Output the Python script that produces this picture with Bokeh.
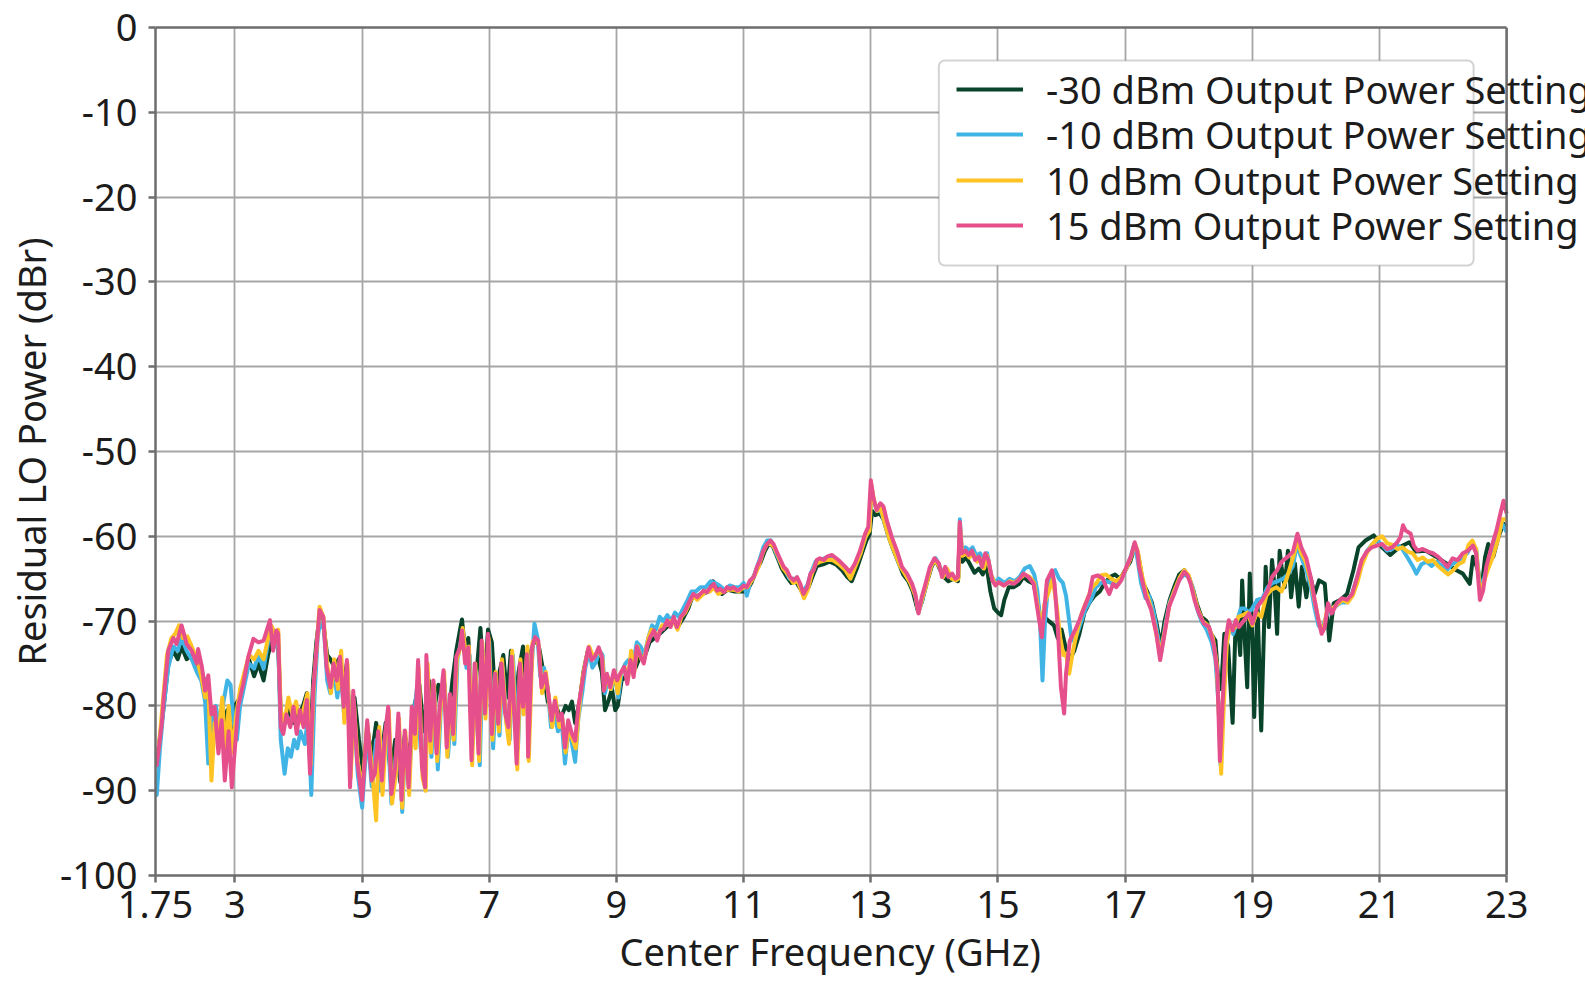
from bokeh.plotting import figure
from bokeh.models import (ColumnDataSource, FixedTicker, Legend, LegendItem,
                          BoxAnnotation, Range1d, LinearAxis, Span, Title)
from bokeh.embed import file_html
from bokeh.resources import INLINE

# ---------------- data ----------------
x_ticks = [1.75, 3, 5, 7, 9, 11, 13, 15, 17, 19, 21, 23]
x_tick_labels = ["1.75", "3", "5", "7", "9", "11", "13", "15", "17", "19", "21", "23"]
y_ticks = [0, -10, -20, -30, -40, -50, -60, -70, -80, -90, -100]
y_tick_labels = ["0", "-10", "-20", "-30", "-40", "-50", "-60", "-70", "-80", "-90", "-100"]

series_names = ["-30 dBm Output Power Setting", "-10 dBm Output Power Setting",
                "10 dBm Output Power Setting", "15 dBm Output Power Setting"]

freq_m30 = [1.75, 1.80, 1.88, 1.95, 2.03, 2.10, 2.16, 2.24, 2.32, 2.40, 2.48, 2.55, 2.63, 2.70, 2.76, 2.82, 2.88, 2.95, 3.00, 3.08,
            3.15, 3.22, 3.30, 3.37, 3.45, 3.52, 3.57, 3.62, 3.68, 3.72, 3.78, 3.85, 3.92, 4.00, 4.07, 4.13, 4.18, 4.23, 4.28, 4.33,
            4.39, 4.45, 4.50, 4.57, 4.63, 4.70, 4.76, 4.82, 4.88, 4.95, 5.02, 5.08, 5.15, 5.22, 5.30, 5.37, 5.45, 5.52, 5.60, 5.67,
            5.75, 5.82, 5.90, 5.97, 6.05, 6.12, 6.20, 6.28, 6.35, 6.42, 6.48, 6.54, 6.57, 6.62, 6.67, 6.73, 6.80, 6.86, 6.92, 6.98,
            7.04, 7.10, 7.16, 7.22, 7.28, 7.34, 7.40, 7.46, 7.53, 7.60, 7.66, 7.72, 7.78, 7.85, 7.92, 7.98, 8.05, 8.12, 8.20, 8.25,
            8.30, 8.35, 8.42, 8.48, 8.55, 8.62, 8.70, 8.77, 8.82, 8.87, 8.93, 8.98, 9.02, 9.08, 9.15, 9.22, 9.30, 9.38, 9.45, 9.52,
            9.60, 9.68, 9.75, 9.82, 9.90, 9.98, 10.06, 10.13, 10.20, 10.28, 10.35, 10.45, 10.52, 10.58, 10.66, 10.75, 10.85, 10.95, 11.05, 11.12,
            11.20, 11.27, 11.33, 11.40, 11.46, 11.52, 11.60, 11.68, 11.75, 11.82, 11.90, 11.95, 12.02, 12.08, 12.15, 12.25, 12.35, 12.45, 12.55, 12.63,
            12.70, 12.78, 12.86, 12.93, 12.98, 13.02, 13.07, 13.14, 13.20, 13.27, 13.35, 13.43, 13.51, 13.59, 13.66, 13.74, 13.80, 13.88, 13.96, 14.02,
            14.08, 14.15, 14.22, 14.30, 14.37, 14.40, 14.44, 14.50, 14.56, 14.63, 14.70, 14.76, 14.82, 14.88, 14.94, 15.00, 15.05, 15.10, 15.17, 15.25,
            15.33, 15.40, 15.48, 15.56, 15.63, 15.68, 15.73, 15.80, 15.88, 15.94, 16.00, 16.06, 16.13, 16.20, 16.28, 16.36, 16.44, 16.52, 16.60, 16.68,
            16.76, 16.84, 16.92, 17.00, 17.08, 17.15, 17.20, 17.28, 17.34, 17.42, 17.50, 17.56, 17.62, 17.70, 17.78, 17.85, 17.93, 18.00, 18.07, 18.13,
            18.20, 18.28, 18.35, 18.42, 18.46, 18.51, 18.56, 18.62, 18.69, 18.73, 18.77, 18.81, 18.84, 18.88, 18.92, 18.96, 19.00, 19.03, 19.08, 19.14,
            19.21, 19.26, 19.31, 19.35, 19.39, 19.43, 19.46, 19.51, 19.56, 19.61, 19.67, 19.73, 19.78, 19.85, 19.90, 19.98, 20.05, 20.14, 20.21, 20.28,
            20.38, 20.49, 20.59, 20.67, 20.78, 20.91, 21.04, 21.17, 21.31, 21.47, 21.57, 21.73, 21.89, 22.05, 22.21, 22.31, 22.42, 22.47, 22.55, 22.60,
            22.66, 22.71, 22.79, 22.87, 22.95, 23.00]
lo_m30 = [-87.0, -85.0, -80.0, -75.0, -73.5, -74.5, -73.0, -74.5, -74.0, -75.5, -76.0, -78.0, -83.0, -81.0, -84.0, -82.0, -80.5, -83.5, -80.0, -79.0,
          -76.5, -74.5, -76.5, -75.0, -77.0, -74.0, -72.5, -72.5, -73.0, -81.0, -82.0, -80.5, -82.0, -81.0, -80.0, -78.5, -86.0, -77.0, -72.5, -69.5,
          -70.5, -74.0, -74.5, -75.5, -74.5, -78.0, -75.0, -85.0, -79.0, -84.0, -88.0, -82.5, -86.0, -82.0, -86.0, -82.0, -88.0, -84.0, -89.0, -83.5,
          -86.0, -80.0, -77.5, -83.0, -77.0, -81.0, -77.5, -79.0, -82.0, -77.0, -73.5, -71.0, -69.8, -73.5, -72.0, -82.0, -76.0, -70.8, -78.0, -71.0,
          -72.5, -80.0, -76.0, -74.0, -79.0, -73.5, -81.0, -76.0, -73.0, -80.0, -73.5, -72.0, -73.0, -76.0, -79.5, -80.5, -80.0, -81.5, -80.0, -80.5,
          -79.5, -82.0, -79.5, -76.0, -73.5, -74.5, -74.0, -76.0, -80.5, -79.5, -78.0, -80.5, -80.0, -77.0, -76.5, -75.5, -75.5, -74.0, -74.0, -72.5,
          -72.0, -71.5, -71.0, -70.5, -70.0, -70.5, -69.5, -68.5, -67.0, -67.0, -66.8, -66.5, -65.3, -66.0, -66.8, -66.3, -66.5, -66.5, -66.5, -65.5,
          -64.0, -63.0, -61.8, -60.8, -61.2, -62.3, -63.8, -64.8, -65.5, -65.3, -66.3, -67.0, -66.0, -64.8, -63.5, -63.3, -63.0, -63.3, -64.0, -64.8,
          -65.3, -63.8, -62.0, -60.5, -59.8, -57.0, -57.5, -57.3, -58.0, -59.8, -61.5, -63.0, -64.5, -65.3, -66.5, -68.8, -67.8, -65.5, -63.5, -62.8,
          -63.8, -64.8, -65.3, -65.0, -65.3, -59.5, -63.0, -62.5, -63.3, -64.3, -63.8, -64.5, -63.5, -66.5, -68.5, -69.0, -69.3, -67.5, -66.0, -66.0,
          -65.6, -64.8, -65.3, -65.6, -68.0, -70.5, -69.5, -70.0, -70.5, -72.0, -71.0, -73.0, -74.5, -73.5, -71.5, -69.0, -67.8, -67.0, -66.5, -65.5,
          -64.8, -64.5, -65.0, -64.0, -63.0, -61.2, -62.0, -65.5, -66.4, -67.8, -70.5, -73.0, -70.0, -67.5, -65.8, -64.5, -64.0, -64.8, -66.3, -68.0,
          -69.5, -70.0, -71.5, -72.3, -76.5, -78.0, -71.5, -73.0, -82.0, -72.0, -70.0, -74.0, -65.2, -72.0, -77.8, -64.4, -72.0, -81.3, -67.5, -82.9,
          -63.6, -70.7, -62.8, -66.0, -71.5, -61.7, -63.6, -66.0, -61.7, -67.2, -63.2, -68.3, -63.6, -67.2, -64.4, -66.8, -65.2, -65.6, -72.3, -67.9,
          -67.5, -66.8, -64.0, -61.3, -60.5, -59.9, -61.3, -62.2, -61.3, -60.7, -61.8, -61.7, -62.4, -63.2, -64.0, -64.4, -65.6, -62.4, -64.0, -66.5,
          -62.5, -60.9, -62.4, -60.1, -58.5, -58.9]

freq_m10 = [1.75, 1.77, 1.82, 1.88, 1.95, 2.03, 2.10, 2.16, 2.24, 2.32, 2.40, 2.47, 2.53, 2.58, 2.63, 2.70, 2.76, 2.82, 2.88, 2.93,
            2.98, 3.03, 3.08, 3.15, 3.22, 3.30, 3.37, 3.45, 3.52, 3.57, 3.63, 3.68, 3.72, 3.78, 3.83, 3.88, 3.93, 3.98, 4.03, 4.10,
            4.15, 4.20, 4.25, 4.30, 4.34, 4.40, 4.45, 4.50, 4.56, 4.61, 4.66, 4.72, 4.77, 4.82, 4.87, 4.93, 5.00, 5.08, 5.15, 5.22,
            5.28, 5.34, 5.40, 5.46, 5.52, 5.58, 5.63, 5.68, 5.74, 5.80, 5.86, 5.92, 5.98, 6.03, 6.09, 6.14, 6.19, 6.24, 6.30, 6.35,
            6.40, 6.45, 6.50, 6.55, 6.60, 6.64, 6.69, 6.74, 6.79, 6.85, 6.90, 6.95, 7.00, 7.06, 7.11, 7.16, 7.21, 7.27, 7.32, 7.37,
            7.45, 7.50, 7.55, 7.62, 7.66, 7.71, 7.76, 7.80, 7.86, 7.92, 7.97, 8.02, 8.08, 8.14, 8.19, 8.24, 8.29, 8.35, 8.40, 8.46,
            8.51, 8.57, 8.62, 8.68, 8.73, 8.78, 8.82, 8.86, 8.92, 8.98, 9.03, 9.08, 9.14, 9.20, 9.25, 9.32, 9.38, 9.44, 9.50, 9.56,
            9.62, 9.68, 9.74, 9.80, 9.86, 9.92, 9.98, 10.05, 10.12, 10.18, 10.25, 10.32, 10.40, 10.48, 10.55, 10.62, 10.70, 10.78, 10.86, 10.94,
            11.00, 11.05, 11.10, 11.17, 11.24, 11.31, 11.37, 11.43, 11.50, 11.57, 11.64, 11.72, 11.80, 11.87, 11.93, 12.00, 12.06, 12.13, 12.20, 12.30,
            12.40, 12.50, 12.60, 12.68, 12.76, 12.84, 12.92, 12.98, 13.01, 13.05, 13.10, 13.16, 13.22, 13.30, 13.38, 13.46, 13.55, 13.63, 13.70, 13.75,
            13.81, 13.88, 13.95, 14.02, 14.08, 14.14, 14.20, 14.27, 14.34, 14.38, 14.40, 14.43, 14.49, 14.55, 14.60, 14.66, 14.72, 14.78, 14.83, 14.89,
            14.95, 15.01, 15.10, 15.18, 15.26, 15.34, 15.42, 15.50, 15.57, 15.62, 15.66, 15.70, 15.74, 15.78, 15.84, 15.90, 15.96, 16.02, 16.07, 16.12,
            16.16, 16.22, 16.30, 16.38, 16.46, 16.54, 16.62, 16.70, 16.78, 16.86, 16.94, 17.02, 17.09, 17.14, 17.19, 17.25, 17.32, 17.38, 17.45, 17.52,
            17.56, 17.63, 17.70, 17.78, 17.86, 17.93, 18.00, 18.06, 18.13, 18.20, 18.28, 18.36, 18.42, 18.47, 18.50, 18.54, 18.59, 18.64, 18.70, 18.76,
            18.82, 18.88, 18.94, 19.00, 19.08, 19.16, 19.24, 19.32, 19.40, 19.48, 19.56, 19.64, 19.70, 19.77, 19.85, 19.92, 19.98, 20.04, 20.10, 20.16,
            20.22, 20.30, 20.40, 20.48, 20.56, 20.64, 20.72, 20.80, 20.88, 20.96, 21.04, 21.12, 21.20, 21.28, 21.36, 21.44, 21.52, 21.58, 21.66, 21.74,
            21.82, 21.90, 21.98, 22.06, 22.14, 22.22, 22.30, 22.38, 22.45, 22.52, 22.58, 22.64, 22.70, 22.78, 22.86, 22.93, 23.00]
lo_m10 = [-88.0, -90.5, -85.0, -80.0, -75.5, -73.0, -73.5, -72.0, -73.5, -74.5, -76.0, -77.0, -79.5, -86.8, -82.0, -80.0, -83.0, -79.5, -77.0, -77.5,
          -82.0, -84.0, -80.0, -77.5, -75.0, -75.6, -74.0, -75.6, -72.5, -71.0, -73.0, -72.5, -84.0, -88.0, -85.0, -86.0, -84.0, -85.0, -83.0, -84.5,
          -81.0, -90.5, -79.0, -72.0, -70.0, -71.0, -77.0, -78.5, -76.0, -79.0, -75.5, -81.5, -76.5, -87.0, -80.0, -88.0, -92.0, -83.0, -89.5, -84.0,
          -90.0, -84.5, -82.0, -91.5, -86.5, -83.0, -92.5, -84.0, -88.0, -82.0, -78.0, -85.0, -87.0, -77.0, -86.0, -78.5, -87.5, -80.0, -77.5, -86.0,
          -80.5, -84.5, -74.5, -72.5, -72.0, -75.5, -74.0, -84.5, -76.0, -87.0, -73.5, -79.0, -72.5, -85.0, -77.5, -83.5, -75.5, -82.0, -84.0, -74.0,
          -85.0, -76.0, -79.0, -74.0, -76.0, -70.3, -72.0, -76.5, -75.5, -78.0, -82.5, -80.5, -83.0, -82.0, -86.8, -83.0, -84.0, -86.6, -81.5, -78.5,
          -75.5, -73.5, -75.5, -74.8, -73.5, -74.0, -78.5, -77.0, -78.0, -76.5, -79.0, -76.0, -75.0, -74.5, -75.5, -72.5, -73.0, -74.0, -72.0, -70.5,
          -71.0, -69.5, -70.0, -69.3, -70.0, -69.0, -69.5, -68.5, -67.5, -66.5, -66.5, -66.0, -66.0, -65.3, -65.5, -65.8, -66.3, -65.8, -66.0, -66.0,
          -65.5, -67.0, -65.5, -64.5, -63.0, -61.3, -60.5, -60.5, -61.8, -63.0, -63.8, -65.0, -65.0, -65.5, -66.5, -65.8, -64.3, -63.0, -62.8, -62.5,
          -62.5, -63.0, -63.8, -64.5, -63.3, -61.8, -60.0, -58.8, -55.0, -56.0, -57.0, -57.0, -58.5, -60.5, -62.0, -63.5, -64.5, -65.5, -67.0, -69.0,
          -67.5, -65.3, -63.5, -62.6, -63.5, -64.5, -64.0, -64.8, -65.0, -64.8, -58.0, -61.5, -61.3, -61.7, -61.3, -62.3, -62.0, -63.3, -62.0, -64.5,
          -65.5, -65.0, -65.5, -65.0, -65.3, -64.8, -63.8, -63.5, -64.5, -66.5, -70.0, -77.0, -70.0, -66.5, -64.3, -64.0, -65.0, -65.5, -67.0, -70.0,
          -72.3, -72.0, -70.3, -68.5, -67.5, -66.0, -65.5, -65.3, -65.5, -65.6, -65.0, -63.8, -62.3, -61.0, -62.5, -65.5, -67.3, -67.0, -69.0, -72.0,
          -74.0, -70.5, -67.8, -66.3, -65.0, -64.5, -64.8, -66.0, -68.5, -70.0, -71.0, -72.5, -74.5, -80.0, -87.0, -79.0, -73.0, -70.5, -71.5, -70.0,
          -68.5, -68.5, -69.0, -68.5, -67.5, -67.3, -66.0, -65.5, -65.3, -65.0, -64.5, -63.5, -61.0, -62.5, -64.0, -66.0, -68.5, -70.5, -71.0, -69.5,
          -68.5, -68.3, -67.8, -67.8, -67.0, -65.0, -63.0, -61.8, -61.0, -60.5, -61.0, -61.7, -61.5, -61.0, -61.5, -62.5, -63.5, -64.4, -63.3, -63.0,
          -63.5, -63.0, -63.5, -64.0, -63.3, -63.0, -62.5, -62.0, -61.0, -61.5, -66.0, -65.0, -63.5, -62.0, -60.0, -58.5, -59.5]

freq_p10 = [1.75, 1.80, 1.86, 1.93, 2.00, 2.06, 2.12, 2.18, 2.25, 2.32, 2.40, 2.47, 2.53, 2.58, 2.63, 2.68, 2.74, 2.80, 2.85, 2.90,
            2.96, 3.02, 3.08, 3.15, 3.22, 3.30, 3.37, 3.45, 3.52, 3.57, 3.63, 3.68, 3.72, 3.78, 3.84, 3.90, 3.96, 4.02, 4.09, 4.14,
            4.19, 4.24, 4.29, 4.33, 4.39, 4.45, 4.51, 4.56, 4.62, 4.67, 4.72, 4.77, 4.82, 4.87, 4.93, 5.00, 5.08, 5.15, 5.22, 5.27,
            5.32, 5.37, 5.42, 5.47, 5.53, 5.58, 5.63, 5.68, 5.74, 5.79, 5.84, 5.89, 5.95, 6.00, 6.03, 6.08, 6.13, 6.18, 6.23, 6.29,
            6.34, 6.39, 6.44, 6.49, 6.55, 6.58, 6.63, 6.68, 6.73, 6.78, 6.84, 6.89, 6.94, 6.99, 7.05, 7.10, 7.15, 7.20, 7.26, 7.31,
            7.36, 7.44, 7.49, 7.54, 7.60, 7.62, 7.68, 7.73, 7.78, 7.83, 7.89, 7.94, 7.99, 8.04, 8.10, 8.15, 8.20, 8.25, 8.31, 8.36,
            8.41, 8.46, 8.52, 8.57, 8.62, 8.67, 8.73, 8.78, 8.81, 8.86, 8.91, 8.97, 9.02, 9.07, 9.13, 9.18, 9.23, 9.28, 9.33, 9.39,
            9.45, 9.50, 9.55, 9.60, 9.66, 9.72, 9.78, 9.84, 9.90, 9.96, 10.02, 10.08, 10.14, 10.20, 10.27, 10.34, 10.40, 10.47, 10.53, 10.60,
            10.68, 10.76, 10.84, 10.92, 11.00, 11.06, 11.12, 11.18, 11.24, 11.30, 11.36, 11.42, 11.48, 11.54, 11.62, 11.70, 11.78, 11.85, 11.90, 11.95,
            12.01, 12.07, 12.13, 12.20, 12.30, 12.40, 12.50, 12.60, 12.68, 12.76, 12.84, 12.92, 12.98, 13.01, 13.05, 13.10, 13.15, 13.22, 13.30, 13.38,
            13.46, 13.54, 13.62, 13.70, 13.75, 13.81, 13.88, 13.95, 14.01, 14.08, 14.14, 14.20, 14.27, 14.34, 14.38, 14.40, 14.44, 14.50, 14.55, 14.61,
            14.67, 14.72, 14.78, 14.83, 14.89, 14.95, 15.01, 15.10, 15.18, 15.26, 15.34, 15.42, 15.50, 15.57, 15.63, 15.68, 15.73, 15.80, 15.86, 15.92,
            15.98, 16.03, 16.07, 16.12, 16.18, 16.25, 16.32, 16.40, 16.48, 16.55, 16.62, 16.70, 16.78, 16.86, 16.94, 17.02, 17.09, 17.15, 17.20, 17.27,
            17.33, 17.40, 17.48, 17.55, 17.62, 17.70, 17.78, 17.86, 17.93, 18.00, 18.07, 18.14, 18.22, 18.30, 18.38, 18.44, 18.48, 18.51, 18.55, 18.60,
            18.65, 18.72, 18.78, 18.85, 18.92, 19.00, 19.07, 19.14, 19.22, 19.30, 19.38, 19.46, 19.54, 19.60, 19.66, 19.71, 19.77, 19.84, 19.92, 19.99,
            20.06, 20.12, 20.18, 20.26, 20.34, 20.42, 20.50, 20.58, 20.65, 20.72, 20.80, 20.88, 20.96, 21.04, 21.12, 21.20, 21.28, 21.36, 21.44, 21.52,
            21.60, 21.68, 21.76, 21.84, 21.92, 22.00, 22.08, 22.16, 22.24, 22.32, 22.40, 22.46, 22.52, 22.58, 22.64, 22.70, 22.78, 22.86, 22.93, 23.00]
lo_p10 = [-86.5, -85.0, -80.0, -74.0, -72.0, -71.5, -70.5, -72.0, -71.8, -73.0, -74.5, -76.5, -79.0, -77.5, -88.8, -82.0, -83.5, -79.0, -86.0, -80.0,
          -85.5, -81.0, -78.0, -76.0, -74.0, -74.5, -73.5, -74.5, -72.0, -70.5, -71.5, -71.0, -80.5, -82.0, -79.0, -81.0, -79.5, -82.0, -80.0, -78.5,
          -87.0, -77.5, -72.5, -68.3, -69.5, -75.0, -78.5, -74.5, -78.0, -73.5, -82.0, -75.0, -88.5, -79.5, -86.5, -90.0, -82.0, -87.0, -93.5, -82.5,
          -90.5, -84.0, -80.5, -91.5, -88.0, -81.5, -92.0, -83.0, -90.5, -80.5, -85.0, -75.5, -88.5, -90.0, -75.0, -85.5, -77.5, -86.5, -80.5, -76.0,
          -86.0, -79.0, -84.0, -74.5, -73.0, -70.8, -74.0, -73.0, -87.0, -75.0, -86.5, -72.5, -81.5, -72.0, -84.0, -76.0, -83.0, -74.5, -81.5, -84.5,
          -73.5, -87.5, -74.5, -81.0, -73.0, -86.5, -72.5, -72.0, -73.0, -78.5, -76.0, -79.5, -82.5, -79.0, -82.5, -81.5, -85.5, -82.5, -84.0, -85.0,
          -80.5, -77.0, -74.5, -73.0, -74.0, -74.0, -73.5, -74.5, -78.0, -76.5, -78.0, -76.0, -78.5, -76.0, -75.5, -77.0, -73.5, -76.0, -73.0, -74.5,
          -74.0, -72.0, -71.0, -71.5, -71.5, -70.5, -70.5, -70.0, -70.0, -71.0, -69.5, -69.0, -68.0, -67.0, -67.5, -67.0, -66.5, -66.5, -66.0, -66.8,
          -66.5, -66.3, -66.3, -66.5, -66.0, -66.0, -65.3, -64.5, -63.5, -62.0, -61.0, -60.8, -61.3, -62.3, -63.8, -64.5, -65.5, -65.3, -66.3, -67.3,
          -66.3, -64.5, -63.3, -63.0, -62.8, -62.8, -63.3, -64.0, -65.0, -63.5, -62.0, -60.0, -59.3, -54.0, -55.8, -57.0, -56.5, -58.5, -60.5, -62.0,
          -63.5, -64.5, -65.5, -67.0, -69.0, -67.3, -65.5, -63.5, -62.8, -63.6, -64.8, -63.8, -65.0, -65.2, -65.0, -58.5, -62.3, -62.0, -62.5, -62.0,
          -63.0, -62.6, -63.8, -62.3, -64.5, -65.6, -65.5, -65.8, -65.3, -65.5, -65.0, -64.5, -64.8, -65.5, -68.5, -71.0, -68.0, -66.5, -65.0, -68.0,
          -72.0, -74.0, -73.8, -76.2, -73.5, -71.0, -69.0, -67.5, -66.0, -65.5, -64.6, -64.5, -65.0, -65.3, -64.8, -63.8, -62.5, -60.9, -61.8, -64.8,
          -66.5, -68.3, -71.0, -74.0, -71.3, -68.0, -66.3, -64.8, -64.0, -64.6, -66.5, -68.5, -70.0, -70.5, -72.0, -75.0, -82.0, -88.0, -80.0, -72.5,
          -70.5, -70.8, -69.5, -69.3, -69.0, -70.5, -69.0, -69.5, -67.0, -66.3, -66.0, -66.5, -65.0, -63.5, -62.0, -60.5, -62.0, -63.0, -65.3, -68.0,
          -70.5, -71.0, -68.5, -68.5, -68.0, -67.5, -67.8, -67.0, -65.5, -63.5, -62.0, -61.0, -60.3, -60.0, -60.8, -61.0, -61.5, -61.3, -61.8, -62.0,
          -62.8, -62.5, -63.0, -62.8, -63.5, -64.0, -64.5, -64.0, -63.3, -63.0, -61.0, -60.5, -61.5, -66.5, -65.5, -64.0, -62.5, -60.5, -58.0, -58.0]

freq_p15 = [1.75, 1.77, 1.85, 1.88, 1.95, 2.03, 2.08, 2.16, 2.24, 2.32, 2.40, 2.42, 2.48, 2.53, 2.58, 2.63, 2.68, 2.74, 2.79, 2.84,
            2.90, 2.95, 3.00, 3.05, 3.13, 3.21, 3.29, 3.37, 3.45, 3.50, 3.55, 3.60, 3.65, 3.68, 3.72, 3.76, 3.81, 3.87, 3.92, 3.97,
            4.02, 4.08, 4.13, 4.18, 4.23, 4.28, 4.33, 4.39, 4.44, 4.50, 4.55, 4.60, 4.65, 4.71, 4.76, 4.81, 4.86, 4.92, 5.00, 5.08,
            5.15, 5.20, 5.25, 5.31, 5.36, 5.41, 5.46, 5.52, 5.57, 5.62, 5.67, 5.73, 5.78, 5.83, 5.88, 5.94, 5.99, 6.01, 6.07, 6.12,
            6.17, 6.22, 6.28, 6.33, 6.38, 6.43, 6.48, 6.54, 6.57, 6.62, 6.67, 6.72, 6.77, 6.83, 6.88, 6.93, 6.98, 7.04, 7.09, 7.14,
            7.19, 7.25, 7.30, 7.35, 7.43, 7.48, 7.53, 7.59, 7.61, 7.67, 7.72, 7.77, 7.82, 7.88, 7.93, 7.98, 8.03, 8.09, 8.14, 8.19,
            8.24, 8.30, 8.35, 8.40, 8.45, 8.51, 8.56, 8.61, 8.66, 8.72, 8.77, 8.80, 8.85, 8.90, 8.96, 9.01, 9.06, 9.12, 9.17, 9.22,
            9.27, 9.32, 9.38, 9.43, 9.48, 9.53, 9.59, 9.64, 9.69, 9.74, 9.80, 9.85, 9.90, 9.95, 10.01, 10.06, 10.11, 10.16, 10.21, 10.27,
            10.32, 10.37, 10.42, 10.48, 10.53, 10.58, 10.63, 10.69, 10.74, 10.79, 10.84, 10.90, 10.95, 11.00, 11.05, 11.10, 11.16, 11.21, 11.26, 11.31,
            11.37, 11.42, 11.47, 11.52, 11.58, 11.63, 11.68, 11.73, 11.79, 11.84, 11.89, 11.94, 12.00, 12.05, 12.10, 12.15, 12.20, 12.26, 12.31, 12.39,
            12.49, 12.60, 12.67, 12.75, 12.83, 12.91, 12.96, 13.00, 13.04, 13.09, 13.15, 13.20, 13.25, 13.33, 13.41, 13.49, 13.57, 13.65, 13.70, 13.75,
            13.80, 13.86, 13.93, 14.00, 14.07, 14.12, 14.17, 14.22, 14.28, 14.33, 14.37, 14.40, 14.43, 14.49, 14.54, 14.59, 14.64, 14.70, 14.75, 14.80,
            14.85, 14.91, 14.96, 15.01, 15.09, 15.17, 15.25, 15.32, 15.40, 15.48, 15.56, 15.64, 15.69, 15.77, 15.85, 15.89, 15.94, 15.99, 16.04, 16.07,
            16.13, 16.21, 16.28, 16.36, 16.44, 16.49, 16.57, 16.65, 16.70, 16.75, 16.81, 16.86, 16.94, 17.02, 17.09, 17.15, 17.19, 17.22, 17.28, 17.33,
            17.41, 17.49, 17.55, 17.62, 17.69, 17.77, 17.85, 17.93, 17.98, 18.03, 18.09, 18.16, 18.24, 18.32, 18.40, 18.45, 18.49, 18.53, 18.58, 18.63,
            18.69, 18.74, 18.79, 18.87, 18.95, 19.00, 19.08, 19.16, 19.24, 19.31, 19.39, 19.46, 19.56, 19.64, 19.71, 19.77, 19.85, 19.93, 19.98, 20.04,
            20.09, 20.14, 20.19, 20.25, 20.33, 20.41, 20.49, 20.57, 20.65, 20.72, 20.80, 20.88, 20.96, 21.04, 21.12, 21.20, 21.28, 21.33, 21.37, 21.41,
            21.49, 21.54, 21.60, 21.68, 21.76, 21.84, 21.92, 22.00, 22.07, 22.15, 22.23, 22.31, 22.39, 22.47, 22.52, 22.58, 22.63, 22.68, 22.76, 22.84,
            22.89, 22.95, 23.00]
lo_p15 = [-86.0, -87.0, -82.0, -79.0, -73.5, -72.0, -72.7, -70.5, -72.7, -73.5, -75.0, -73.3, -75.4, -78.2, -76.4, -81.0, -80.1, -85.6, -81.7, -88.8,
          -83.0, -89.6, -84.9, -80.1, -77.4, -74.2, -72.1, -72.5, -72.3, -71.1, -69.9, -73.5, -71.1, -71.5, -82.5, -83.3, -81.0, -82.5, -80.1, -83.3,
          -80.5, -82.5, -79.3, -88.0, -78.2, -73.5, -68.7, -69.5, -75.4, -77.8, -75.0, -77.0, -74.2, -80.1, -74.6, -89.6, -78.2, -86.4, -91.1, -81.7,
          -88.8, -88.0, -83.0, -88.8, -83.3, -80.1, -90.4, -87.2, -80.9, -91.1, -82.9, -89.6, -80.1, -83.3, -74.6, -87.2, -89.6, -74.0, -84.1, -77.0,
          -85.6, -80.1, -75.8, -84.9, -78.6, -83.3, -74.2, -73.1, -71.1, -75.0, -73.1, -86.4, -75.0, -85.6, -72.3, -80.9, -71.5, -83.3, -76.2, -82.1,
          -75.0, -80.9, -82.5, -74.2, -86.8, -75.0, -80.1, -73.9, -86.0, -73.1, -71.9, -72.3, -77.8, -76.2, -78.6, -81.7, -79.4, -81.7, -80.9, -84.9,
          -81.7, -83.3, -84.1, -80.1, -77.8, -75.0, -73.1, -74.6, -74.2, -73.1, -74.2, -78.2, -76.2, -77.8, -75.8, -77.0, -76.2, -75.4, -77.4, -74.6,
          -76.6, -73.0, -74.2, -75.0, -73.0, -71.9, -71.1, -72.3, -71.1, -70.9, -69.9, -70.7, -69.5, -70.7, -69.5, -69.1, -68.3, -67.5, -66.8, -67.2,
          -66.8, -66.4, -66.6, -66.0, -65.6, -66.4, -66.2, -66.6, -66.0, -66.2, -66.0, -66.4, -66.2, -65.8, -66.0, -65.2, -64.8, -63.6, -62.8, -61.7,
          -60.9, -60.5, -60.9, -61.8, -62.8, -63.6, -64.0, -64.8, -65.2, -64.8, -65.6, -66.8, -66.0, -64.4, -64.0, -62.8, -62.6, -62.8, -62.4, -62.2,
          -62.8, -63.6, -64.2, -63.2, -61.7, -59.7, -58.9, -53.4, -55.4, -56.9, -56.1, -56.5, -58.1, -60.1, -61.7, -63.6, -64.4, -65.6, -66.8, -69.1,
          -67.2, -65.6, -63.6, -62.6, -63.2, -64.8, -63.6, -64.8, -64.4, -65.0, -64.8, -58.3, -62.0, -61.7, -62.2, -61.7, -62.8, -62.4, -63.6, -62.0,
          -62.8, -65.2, -65.8, -65.4, -65.8, -65.4, -65.6, -65.2, -64.4, -64.8, -65.6, -69.5, -71.9, -65.2, -64.0, -65.6, -70.7, -77.8, -80.9, -76.2,
          -72.3, -71.1, -69.9, -68.3, -66.8, -64.8, -64.6, -65.0, -66.0, -66.8, -65.6, -66.0, -65.2, -63.6, -62.4, -60.7, -61.7, -63.6, -65.6, -67.2,
          -68.7, -71.5, -74.6, -71.5, -68.3, -66.8, -65.2, -64.2, -64.6, -65.6, -67.5, -69.1, -70.3, -70.7, -73.0, -76.2, -86.5, -80.1, -72.3, -69.9,
          -71.1, -69.9, -70.7, -69.9, -69.1, -70.3, -68.3, -67.5, -66.4, -64.8, -64.0, -63.0, -62.4, -61.8, -59.7, -61.3, -62.6, -65.2, -67.5, -69.9,
          -71.5, -70.7, -67.9, -69.1, -67.9, -67.3, -67.5, -66.8, -64.8, -62.8, -61.8, -61.3, -61.1, -60.9, -61.5, -61.3, -60.7, -60.1, -58.7, -59.3,
          -59.7, -61.1, -61.7, -61.5, -61.8, -62.0, -62.4, -63.0, -63.6, -62.6, -62.8, -62.0, -61.7, -61.1, -62.0, -67.5, -66.4, -63.6, -61.3, -59.3,
          -57.7, -55.8, -57.3]

series_freqs = [freq_m30, freq_m10, freq_p10, freq_p15]
series_values = [lo_m30, lo_m10, lo_p10, lo_p15]
series_colors = ["#08432a", "#41b4e6", "#ffc423", "#e5508c"]

# ---------------- layout constants ----------------
FONT = "Noto Sans"
FS = "38px"
TXT = "#1c1c1c"
AX = "#6d6d6d"
X_MIN, X_MAX = 1.75, 23.0
X_VIEW_END = 24.24   # frame runs to the right canvas edge so the legend text may overflow

p = figure(width=1585, height=982, output_backend="svg", toolbar_location=None,
           x_range=Range1d(X_MIN, X_VIEW_END), y_range=Range1d(-100, 0),
           min_border_left=155, min_border_right=0, min_border_top=27, min_border_bottom=107)
p.background_fill_color = "white"
p.border_fill_color = "white"
p.outline_line_color = None

renderers = []
for fx, fy, col in zip(series_freqs, series_values, series_colors):
    src = ColumnDataSource(dict(x=fx, y=fy))
    r = p.line("x", "y", source=src, line_color=col, line_width=4, line_join="round")
    renderers.append(r)

p.xaxis.ticker = FixedTicker(ticks=x_ticks)
p.xaxis.major_label_overrides = {t: l for t, l in zip(x_ticks, x_tick_labels)}
p.xaxis.bounds = (X_MIN, X_MAX)
p.yaxis.ticker = FixedTicker(ticks=y_ticks)
p.yaxis.major_label_overrides = {t: l for t, l in zip(y_ticks, y_tick_labels)}

for ax in (p.xaxis, p.yaxis):
    ax.axis_line_color = AX
    ax.axis_line_width = 2.5
    ax.major_tick_line_color = AX
    ax.major_tick_line_width = 2.5
    ax.major_tick_out = 7
    ax.major_tick_in = 0
    ax.minor_tick_line_color = None
    ax.major_label_text_font = FONT
    ax.major_label_text_font_size = FS
    ax.major_label_text_color = TXT
    ax.axis_label_text_font = FONT
    ax.axis_label_text_font_size = FS
    ax.axis_label_text_font_style = "normal"
    ax.axis_label_text_color = TXT

p.yaxis.axis_label = "Residual LO Power (dBr)"
p.xaxis.major_label_standoff = 8
p.yaxis.major_label_standoff = 11
p.yaxis.axis_label_standoff = 0

# x axis title, centred under the plot area (not under the wider frame)
x_title = Title(text="Center Frequency (GHz)", align="left", offset=464,
                vertical_align="middle", standoff=6,
                text_font=FONT, text_font_size=FS, text_font_style="normal", text_color=TXT)
p.add_layout(x_title, "below")

# top border line of the plot area (as a bounded, label-less axis)
top_axis = LinearAxis(ticker=FixedTicker(ticks=[]), bounds=(X_MIN, X_MAX),
                      axis_line_color=AX, axis_line_width=2.5,
                      major_tick_line_color=None, minor_tick_line_color=None,
                      major_label_text_font_size="0px")
p.add_layout(top_axis, "above")

p.grid.grid_line_color = "#a6a6a6"
p.grid.grid_line_width = 1.8
p.xgrid.ticker = FixedTicker(ticks=x_ticks)
p.ygrid.ticker = FixedTicker(ticks=y_ticks)

# blank area right of the plot area (hides grid lines there)
cover = BoxAnnotation(left=X_MAX, right=X_VIEW_END + 1, top=0, bottom=-100,
                      fill_color="white", fill_alpha=1.0, line_alpha=0, level="underlay")
p.add_layout(cover)

# right border line of the plot area
right_edge = Span(location=X_MAX, dimension="height", line_color=AX, line_width=2.5)
p.add_layout(right_edge)

# legend box (drawn behind legend text)
box = BoxAnnotation(left=14.07, right=22.48, top=-3.9, bottom=-28.07,
                    fill_color="white", fill_alpha=1.0,
                    line_color=AX, line_width=2, border_radius=6)
p.add_layout(box)

# one legend per row, so the row pitch can match the reference
row_offsets = [760, 715, 669, 624]
for name, r, vy in zip(series_names, renderers, row_offsets):
    lg = Legend(items=[LegendItem(label=name, renderers=[r])], location=(801, vy),
                orientation="vertical", padding=0, margin=0, spacing=0,
                glyph_width=67, glyph_height=40, label_height=40, label_standoff=23,
                label_text_font=FONT, label_text_font_size=FS, label_text_color=TXT,
                background_fill_alpha=0, border_line_alpha=0)
    p.add_layout(lg, "center")

open("out.html", "w").write(file_html(p, INLINE))
